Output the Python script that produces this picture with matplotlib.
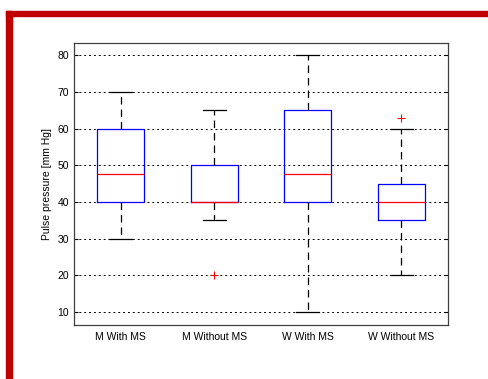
import matplotlib
matplotlib.use("Agg")
import matplotlib.pyplot as plt
from matplotlib.patches import Rectangle

plt.rcParams['font.family'] = ['Liberation Sans', 'DejaVu Sans']

# Data
groups = ["M With MS", "M Without MS", "W With MS", "W Without MS"]
q1 = [40, 40, 40, 35]
medians = [47.5, 40, 47.5, 40]
q3 = [60, 50, 65, 45]
whisker_low = [30, 35, 10, 20]
whisker_high = [70, 65, 80, 60]
outliers = [[], [20], [], [63]]
y_ticks = [10, 20, 30, 40, 50, 60, 70, 80]


def main():
    fig = plt.figure(figsize=(4.89, 3.79), dpi=100)

    # red frame around the figure (top and left bars)
    red = '#c00000'
    fig.patches.append(Rectangle((6 / 489, 1 - 16 / 379), 1, 5 / 379,
                                 transform=fig.transFigure, color=red, zorder=0))
    fig.patches.append(Rectangle((6 / 489, 0), 6 / 489, 1 - 11 / 379,
                                 transform=fig.transFigure, color=red, zorder=0))

    ax = fig.add_axes([74 / 489, 1 - 325 / 379, 374 / 489, 282 / 379])

    stats = []
    for i, name in enumerate(groups):
        stats.append({
            'label': name,
            'q1': q1[i], 'med': medians[i], 'q3': q3[i],
            'whislo': whisker_low[i], 'whishi': whisker_high[i],
            'fliers': outliers[i],
        })

    ax.bxp(stats, positions=range(1, len(groups) + 1), widths=0.5,
           showfliers=True,
           boxprops=dict(color='#0000ff', linewidth=0.9),
           medianprops=dict(color='#ff0000', linewidth=0.9),
           whiskerprops=dict(color='#000000', linewidth=0.9,
                             linestyle=(0, (6, 4))),
           capprops=dict(color='#000000', linewidth=0.9),
           capwidths=0.25,
           flierprops=dict(marker='+', markeredgecolor='#ff0000',
                           markersize=6, linestyle='none', markeredgewidth=0.8))

    ax.set_xlim(0.5, 4.5)
    ax.set_ylim(6.5, 83.3)
    ax.set_yticks(y_ticks)
    ax.yaxis.grid(True, color='black', linestyle=(0, (2, 3)), linewidth=0.7)
    ax.set_axisbelow(True)

    ax.set_ylabel("Pulse pressure [mm Hg]", fontsize=7.5)
    ax.tick_params(axis='both', labelsize=7.5, direction='in')
    ax.tick_params(axis='x', length=0, pad=5)
    ax.tick_params(axis='y', right=True, length=3)
    for s in ax.spines.values():
        s.set_color('#404040')
        s.set_linewidth(0.9)

    fig.savefig("out.png", dpi=100)
    plt.close(fig)


if __name__ == "__main__":
    main()
